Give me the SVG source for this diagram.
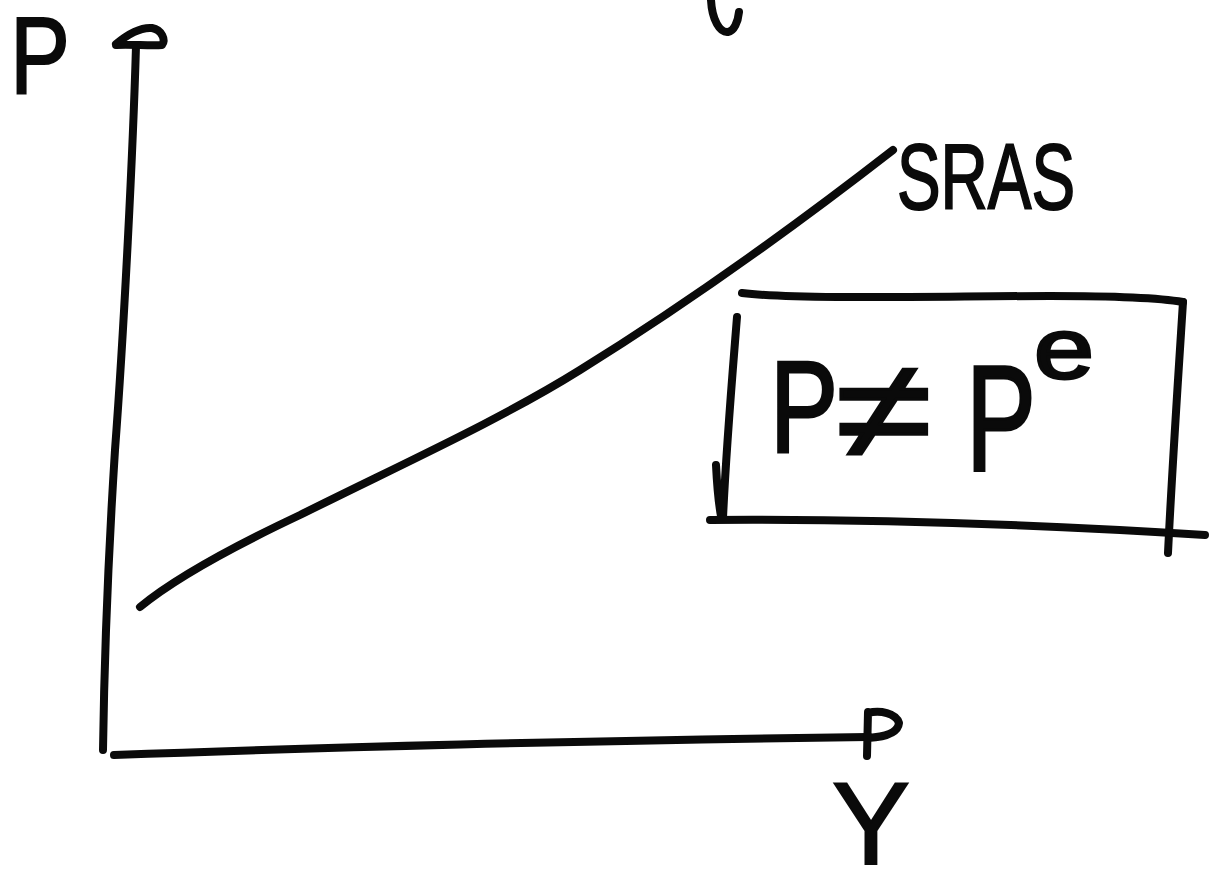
<svg xmlns="http://www.w3.org/2000/svg" width="1219" height="873" viewBox="0 0 1219 873">
<style>
.ink{fill:none;stroke:#0a0a0a;stroke-width:8;stroke-linecap:round;stroke-linejoin:round}
.lbl{font-family:"Liberation Sans",Arial,sans-serif;fill:#0a0a0a;stroke:#0a0a0a;stroke-width:2}
.big{stroke-width:3}
</style>
<rect width="1219" height="873" fill="#fff"/>
<g id="connectors">
  <path id="y-axis" class="ink" d="M136,46 C133,150 124,330 115,450 C108,560 104,680 103,750"/>
  <path id="y-arrowhead" class="ink" d="M116,44 C128,34 140,27 152,28 C162,30 166,40 162,45 C150,46 130,44 116,45"/>
  <path id="x-axis" class="ink" d="M114,755 C300,748 600,740 868,737"/>
  <path id="x-arrowhead" class="ink" d="M868,712 L867,756 M868,713 C880,710 896,713 899,723 C898,733 884,737 868,738"/>
  <path id="sras" class="ink" d="M140,607 C175,578 230,548 300,515 C400,465 500,420 580,370 C680,308 790,230 893,150"/>
  <path id="fragment" class="ink" d="M711,0 C712,20 720,33 728,32 C734,31 738,22 739,12"/>
</g>
<g id="p-label"><text class="lbl" x="10" y="93" font-size="110" textLength="60" lengthAdjust="spacingAndGlyphs">P</text></g>
<g id="sras-label"><text class="lbl" x="897" y="209" font-size="92" textLength="178" lengthAdjust="spacingAndGlyphs">SRAS</text></g>
<g id="y-label"><text class="lbl" x="832" y="864" font-size="116" textLength="78" lengthAdjust="spacingAndGlyphs">Y</text></g>
<g id="box">
  <path class="ink" d="M742,293 C800,300 950,296 1050,296 C1120,296 1160,298 1183,302"/>
  <path class="ink" d="M1183,302 C1178,380 1172,470 1168,553"/>
  <path class="ink" d="M737,317 C732,380 726,450 723,518 M716,465 C717,485 718,500 721,516"/>
  <path class="ink" d="M710,520 C850,519 1000,522 1205,535"/>
  <text class="lbl big" x="770" y="452" font-size="130" textLength="68" lengthAdjust="spacingAndGlyphs">P</text>
  <text class="lbl big" x="836" y="458" font-size="140" textLength="96" lengthAdjust="spacingAndGlyphs">≠</text>
  <text class="lbl big" x="966" y="470" font-size="150" textLength="70" lengthAdjust="spacingAndGlyphs">P</text>
  <text class="lbl big" x="1034" y="378" font-size="86" textLength="60" lengthAdjust="spacingAndGlyphs">e</text>
</g>
</svg>
